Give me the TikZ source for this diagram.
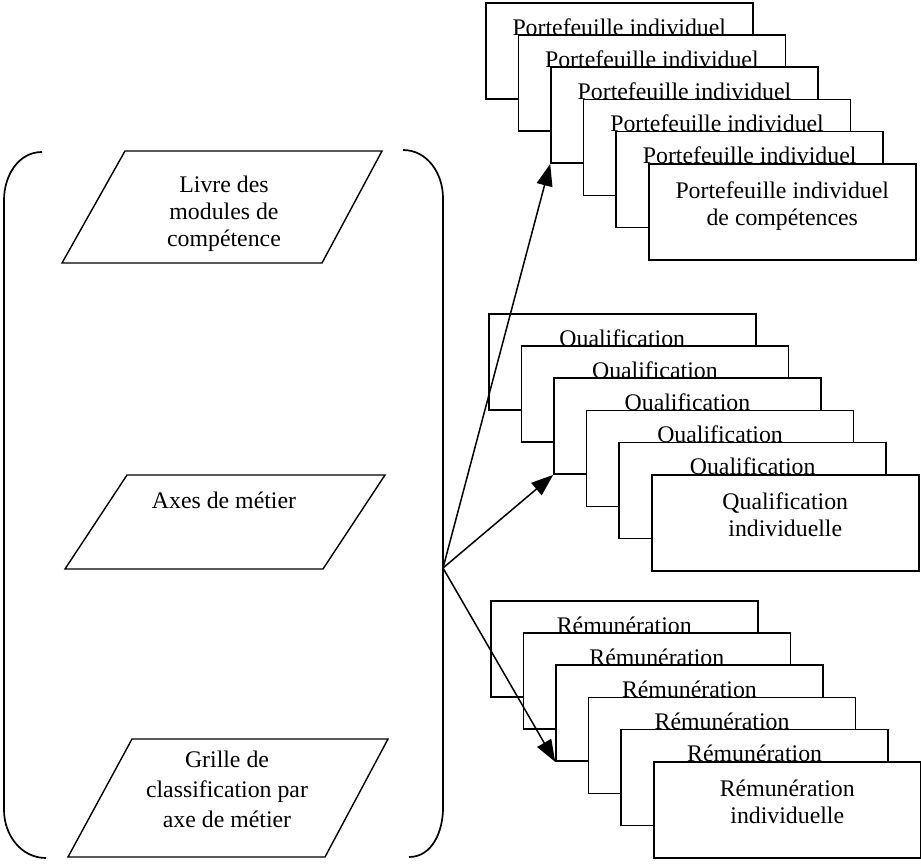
\documentclass[tikz,border=0pt]{standalone}
\usepackage{fontspec}
\setmainfont{Liberation Serif}
\usetikzlibrary{arrows.meta}

\newcommand\cardfont{\fontsize{23.8}{27}\selectfont}

\tikzset{
  card/.style={draw, fill=white, line width=1.5pt, minimum width=267pt,
    minimum height=96pt, inner sep=0pt, anchor=north west},
  cardtext/.style={anchor=base, inner sep=0pt, align=center, font=\cardfont},
  slanted/.style={draw, line width=1.4pt, line join=miter},
  boxtext/.style={anchor=base, inner sep=0pt, align=center, font=\cardfont},
  link/.style={line width=1.5pt, -{Triangle[length=22pt,width=16pt]}},
  brace/.style={line width=1.7pt}
}

% A stack of six cards shifted down and to the right; only the front one
% shows its full two-line label (anchored on its last baseline).
\newcommand\cardstack[5]{%
  \foreach \k in {0,...,4}{
    \node[card] (#1\k) at ({#2+32.6*\k},{#3+32.2*\k}) {};
    \node[cardtext] (#1t\k) at ([yshift=-33pt]#1\k.north) {#4};
  }
  \node[card] (#15) at ({#2+32.6*5},{#3+32.2*5}) {};
  \node[cardtext] (#1t5) at ([yshift=-62pt]#15.north) {#5};
}

\begin{document}
\begin{tikzpicture}[x=1pt,y=-1pt]
\useasboundingbox (0,0) rectangle (921,863);

% round brackets enclosing the three inputs
\draw[brace] (42,152) to[out=180,in=90] (4,200) -- (4,810) to[out=-90,in=180] (46,858);
\draw[brace] (403,150) to[out=0,in=90] (443,198) -- (443,808) to[out=-90,in=0] (409,857);
\coordinate (hub) at (443,568);

% input documents
\draw[slanted] (125,151) -- (382,151) -- (322,263) -- (62,263) -- cycle;
\node[boxtext] (livre) at (224,246) {Livre des\\modules de\\compétence};

\draw[slanted] (127,475) -- (385,475) -- (323,569) -- (65,569) -- cycle;
\node[boxtext] (axes) at (224,508) {Axes de métier};

\draw[slanted] (132,739) -- (388,739) -- (325,857) -- (68,857) -- cycle;
\node[boxtext, font={\fontsize{23.8}{30}\selectfont}] (grille) at (227,827)
  {Grille de\\classification par\\axe de métier};

% individual outputs
\cardstack{pf}{485}{2}{Portefeuille individuel}{Portefeuille individuel\\de compétences}
\cardstack{ql}{488}{313}{Qualification}{Qualification\\individuelle}
\cardstack{rm}{490}{600}{Rémunération}{Rémunération\\individuelle}

% links
\draw[link] (hub) -- (pf2.south west);
\draw[link] (hub) -- (ql2.south west);
\draw[link] (hub) -- (rm2.south west);
\end{tikzpicture}
\end{document}
